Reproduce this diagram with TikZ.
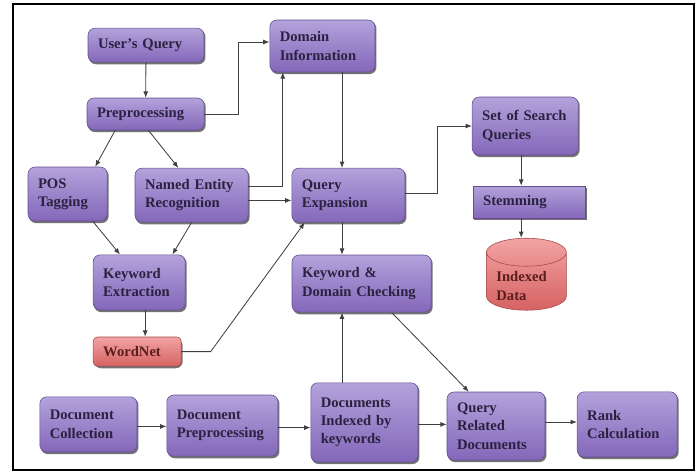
\documentclass[tikz,border=0pt]{standalone}
\usepackage{fontspec}
\setmainfont{Liberation Serif}
\usepackage{tikz}
\usetikzlibrary{shapes.geometric, arrows.meta, positioning, backgrounds, calc}
\definecolor{plight}{HTML}{B3A2DB}
\definecolor{pdark}{HTML}{8467BA}
\definecolor{pline}{HTML}{654C93}
\definecolor{rlight}{HTML}{F2A3A3}
\definecolor{rdark}{HTML}{D66262}
\definecolor{rline}{HTML}{A84848}
\definecolor{boxtext}{HTML}{2A2240}
\definecolor{redtext}{HTML}{5A1E1E}

\begin{document}
\begin{tikzpicture}[
  box/.style={draw=pline, rounded corners=5pt, top color=plight, bottom color=pdark,
              align=left, inner xsep=0.25cm, text=boxtext,
              execute at begin node=\color{boxtext},
              font=\fontsize{10.4}{13}\selectfont\bfseries},
  redbox/.style={box, draw=rline, top color=rlight, bottom color=rdark, text=redtext,
                 execute at begin node=\color{redtext}},
  shade/.style={fill=black!55, rounded corners=5pt},
  arr/.style={-{Latex[length=4.5pt,width=3.5pt]}, draw=black!75, line width=0.6pt},
]
  \useasboundingbox (0,0) rectangle (17.475,-11.8);
  \draw[line width=1.6pt] (0.33,-0.1) rectangle (17.35,-11.75);

  % query side
  \node[box, text width=2.4cm, minimum height=0.85cm] (uq) at (3.65,-1.13) {User's Query};
  \node[box, text width=2.43cm, minimum height=0.8cm] (pre) at (3.64,-2.85) {Preprocessing};
  \node[box, text width=2.13cm, minimum height=1.3cm] (dom) at (8.06,-1.15) {Domain\\Information};
  \node[box, text width=1.48cm, minimum height=1.35cm] (pos) at (1.69,-4.85) {POS\\Tagging};
  \node[box, text width=2.33cm, minimum height=1.35cm] (ner) at (4.79,-4.88) {Named Entity\\Recognition};
  \node[box, text width=2.33cm, minimum height=1.35cm] (qe) at (8.71,-4.88) {Query\\Expansion};
  \node[box, text width=2.15cm, minimum height=1.45cm] (ssq) at (13.13,-3.15) {Set of Search\\Queries};
  \node[box, rounded corners=0pt, text width=2.3cm, minimum height=0.8cm] (stem) at (13.23,-5.05) {Stemming};
  \node[redbox, cylinder, shape border rotate=90, aspect=0.35, rounded corners=0pt,
        text width=1.5cm, minimum width=2.0cm, minimum height=1.8cm] (idx) at (13.16,-7.15) {Indexed\\Data};
  \node[box, text width=1.8cm, minimum height=1.38cm] (kwe) at (3.48,-7.06) {Keyword\\Extraction};
  \node[redbox, rounded corners=3pt, text width=1.7cm, minimum height=0.73cm] (wn) at (3.43,-8.79) {WordNet};
  \node[box, text width=2.98cm, minimum height=1.43cm] (kdc) at (9.04,-7.09) {Keyword \&\\Domain Checking};

  % document side
  \node[box, text width=1.93cm, minimum height=1.38cm] (dc) at (2.21,-10.61) {Document\\Collection};
  \node[box, text width=2.28cm, minimum height=1.53cm] (dp) at (5.56,-10.64) {Document\\Preprocessing};
  \node[box, text width=2.18cm, minimum height=1.98cm] (dik) at (9.11,-10.56) {Documents\\Indexed by\\keywords};
  \node[box, text width=1.95cm, minimum height=1.7cm] (qrd) at (12.4,-10.65) {Query\\Related\\Documents};
  \node[box, text width=2.0cm, minimum height=1.63cm] (rc) at (15.68,-10.61) {Rank\\Calculation};

  % shadows
  \begin{scope}[on background layer]
    \foreach \n in {uq,pre,dom,pos,ner,qe,ssq,kwe,wn,kdc,dc,dp,dik,qrd,rc}
      \fill[shade] ($(\n.south west)+(0.03,-0.045)$) rectangle ($(\n.north east)+(0.03,-0.045)$);
    \fill[shade, rounded corners=0pt] ($(stem.south west)+(0.03,-0.045)$) rectangle ($(stem.north east)+(0.03,-0.045)$);
  \end{scope}

  % connections
  \draw[arr] (uq) -- (pre);
  \draw[arr] (pre.east) -- ++(0.85,0) |- ([yshift=0.1cm]dom.west);
  \draw[arr] ([xshift=-0.76cm]pre.south) -- ([xshift=0.69cm]pos.north);
  \draw[arr] ([xshift=0.07cm]pre.south) -- ([xshift=-0.33cm]ner.north);
  \draw[arr] ([yshift=0.23cm]ner.east) -| ([xshift=-0.99cm]dom.south);
  \draw[arr] ([yshift=-0.13cm]ner.east) -- ([yshift=-0.13cm]qe.west);
  \draw[arr] ([xshift=0.49cm]dom.south) -- ([xshift=0.49cm]dom.south |- qe.north);
  \draw[arr] ([yshift=0.05cm]qe.east) -- ++(0.8,0) |- (ssq.west);
  \draw[arr] ([xshift=-0.1cm]ssq.south) -- ([xshift=-0.1cm]ssq.south |- stem.north);
  \draw[arr] ([xshift=-0.1cm]ssq.south |- stem.south) -- ([xshift=-0.1cm]ssq.south |- idx.north);
  \draw[arr] ([xshift=-0.16cm]qe.south) -- ([xshift=-0.16cm]qe.south |- kdc.north);
  \draw[arr] ([xshift=0.63cm]pos.south) -- ([xshift=-0.48cm]kwe.north);
  \draw[arr] (ner.south) -- ([xshift=0.83cm]kwe.north);
  \draw[arr] ([xshift=0.15cm]kwe.south) -- ([xshift=0.15cm]kwe.south |- wn.north);
  \draw[arr] (wn.east) -- ++(0.73,0) -- ([xshift=0.33cm]qe.south west);
  \draw[arr] ([xshift=0.75cm]kdc.south) -- ([xshift=-0.68cm]qrd.north);
  \draw[arr] ([xshift=-0.56cm]dik.north) -- ([xshift=-0.56cm]dik.north |- kdc.south);
  \draw[arr] ([yshift=-0.05cm]dc.east) -- ([yshift=-0.05cm]dc.east -| dp.west);
  \draw[arr] ([yshift=-0.05cm]dp.east) -- ([yshift=-0.05cm]dp.east -| dik.west);
  \draw[arr] ([yshift=-0.05cm]dik.east) -- ([yshift=-0.05cm]dik.east -| qrd.west);
  \draw[arr] ([yshift=0.1cm]qrd.east) -- ([yshift=0.1cm]qrd.east -| rc.west);
\end{tikzpicture}
\end{document}
